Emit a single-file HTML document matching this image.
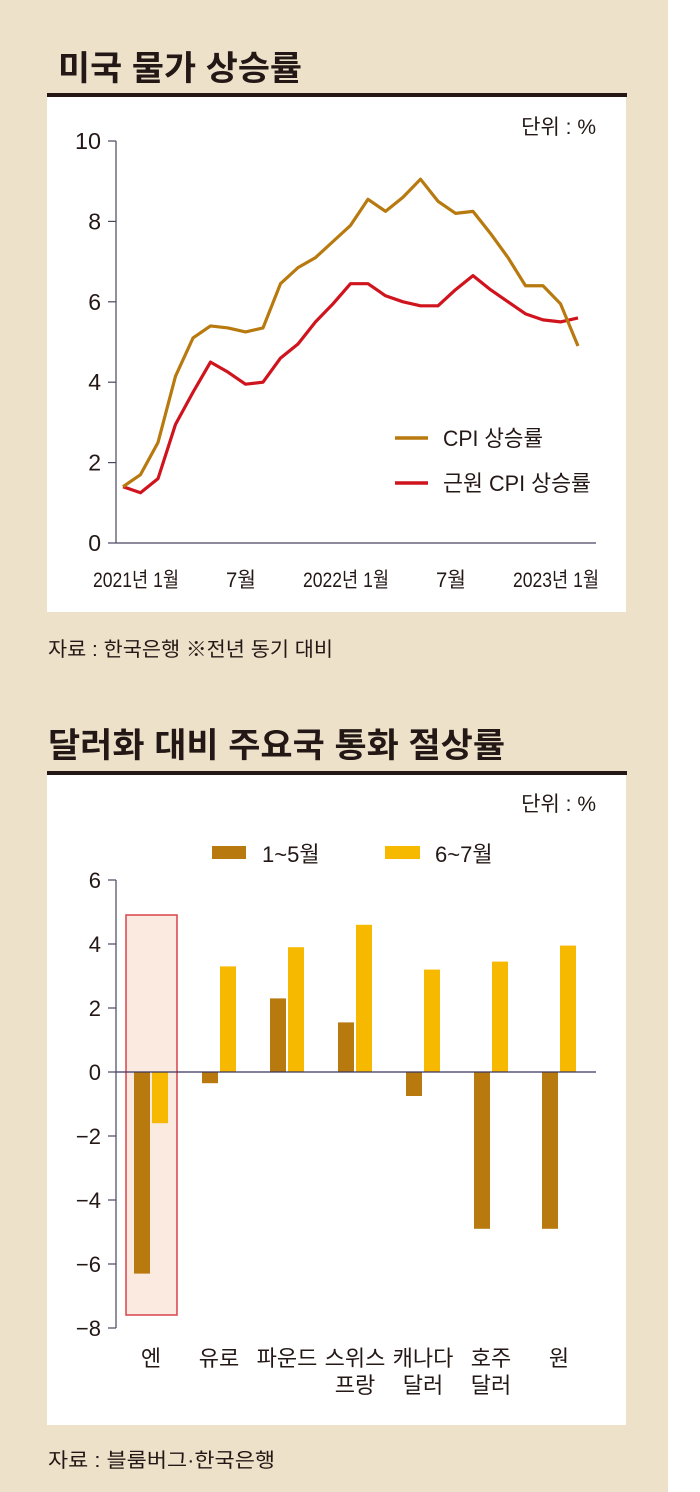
<!DOCTYPE html>
<html><head><meta charset="utf-8"><style>
html,body{margin:0;padding:0;background:#fff;}
svg{display:block;font-family:"Liberation Sans","Noto Sans CJK KR",sans-serif;}
</style></head><body>
<svg id="s" width="700" height="1492" viewBox="0 0 700 1492">
<rect x="0" y="0" width="668" height="1492" fill="#ede1ca"/>
<text x="58" y="80" font-size="34" font-weight="bold" fill="#231815" textLength="244" lengthAdjust="spacingAndGlyphs">미국 물가 상승률</text>
<rect x="47" y="93" width="580" height="4" fill="#231815"/>
<rect x="47" y="97" width="579" height="515" fill="#fff"/>
<text x="596" y="134" font-size="21" text-anchor="end" fill="#231815">단위 : %</text>
<g id="c1"></g>
<text x="48" y="656" font-size="20" fill="#231815" textLength="285" lengthAdjust="spacingAndGlyphs">자료 : 한국은행 ※전년 동기 대비</text>

<text x="48" y="757" font-size="34" font-weight="bold" fill="#231815" textLength="457" lengthAdjust="spacingAndGlyphs">달러화 대비 주요국 통화 절상률</text>
<rect x="47" y="771" width="580" height="4" fill="#231815"/>
<rect x="47" y="775" width="579" height="650" fill="#fff"/>
<text x="596" y="811" font-size="21" text-anchor="end" fill="#231815">단위 : %</text>
<rect x="212" y="846" width="34" height="13" fill="#b8790f"/>
<text x="262" y="862" font-size="22" fill="#231815">1~5월</text>
<rect x="385" y="846" width="35" height="13" fill="#f7b900"/>
<text x="435" y="862" font-size="22" fill="#231815">6~7월</text>
<rect x="126" y="915" width="51" height="400" fill="#faeae0" stroke="#d9434b" stroke-width="1.5"/>
<g id="c2"></g>
<text x="48" y="1467" font-size="20" fill="#231815" textLength="227" lengthAdjust="spacingAndGlyphs">자료 : 블룸버그·한국은행</text>
</svg>
<script>
const cpi=[1.4,1.7,2.5,4.15,5.1,5.4,5.35,5.25,5.35,6.45,6.85,7.1,7.5,7.9,8.55,8.25,8.6,9.05,8.5,8.2,8.25,7.7,7.1,6.4,6.4,5.95,4.9];
const core=[1.4,1.25,1.6,2.95,3.75,4.5,4.25,3.95,4.0,4.6,4.95,5.5,5.95,6.45,6.45,6.15,6.0,5.9,5.9,6.3,6.65,6.3,6.0,5.7,5.55,5.5,5.6];
const yTicks1=[0,2,4,6,8,10];
const xLabels1=["2021년 1월","7월","2022년 1월","7월","2023년 1월"];
const xLabelIdx=[0,6,12,18,24];
const cats=["엔","유로","파운드","스위스|프랑","캐나다|달러","호주|달러","원"];
const janMay=[-6.3,-0.35,2.3,1.55,-0.75,-4.9,-4.9];
const junJul=[-1.6,3.3,3.9,4.6,3.2,3.45,3.95];
const yTicks2=[6,4,2,0,-2,-4,-6,-8];
const NS="http://www.w3.org/2000/svg";
function mk(p,t,a){const e=document.createElementNS(NS,t);for(const k in a)e.setAttribute(k,a[k]);p.appendChild(e);return e;}
const c1=document.getElementById('c1');
const x1=i=>123+i*17.5, y1=v=>543-v*40.2;
let e=mk(c1,'line',{x1:116,y1:y1(10),x2:116,y2:y1(0),stroke:'#4a4560','stroke-width':1.2});


e=mk(c1,'line',{x1:116,y1:y1(0),x2:596,y2:y1(0),stroke:'#4a4560','stroke-width':1.2});


yTicks1.forEach(v=>{
 const t=mk(c1,'line',{x1:108,y1:y1(v),x2:116,y2:y1(v),stroke:'#4a4560','stroke-width':1.2});
 
 
 const a={x:101,y:y1(v)+8,'font-size':23,'text-anchor':'end',fill:'#231815'};
 if(String(v).length>1){a.textLength=26;a.lengthAdjust='spacingAndGlyphs';}
 const l=mk(c1,'text',a);
 l.textContent=v;
 
 
});
xLabels1.forEach((s,k)=>{
 const w=s.length>3?86:30;
 const l=mk(c1,'text',{x:x1(xLabelIdx[k])+13,y:587,'font-size':21,'text-anchor':'middle',fill:'#231815',textLength:w,lengthAdjust:'spacingAndGlyphs'});
 l.textContent=s;
 
 
});
function line(arr,col,name){
 const p=mk(c1,'polyline',{points:arr.map((v,i)=>x1(i)+','+y1(v)).join(' '),fill:'none',stroke:col,'stroke-width':3.2,'stroke-linejoin':'round'});
 
 
}
line(core,'#d0141e','core-cpi-line');
line(cpi,'#b8790f','cpi-line');
[['#b8790f','CPI 상승률',438,100],['#d0141e','근원 CPI 상승률',483,148]].forEach(([c,s,y,w])=>{
 const l=mk(c1,'line',{x1:395,y1:y,x2:428,y2:y,stroke:c,'stroke-width':3.5});
 
 
 const t=mk(c1,'text',{x:443,y:y+8,'font-size':22,fill:'#231815',textLength:w,lengthAdjust:'spacingAndGlyphs'});
 t.textContent=s;
 
 
});
const c2=document.getElementById('c2');
const y2=v=>1072-v*32, gx=i=>134+i*68;
yTicks2.forEach(v=>{
 const t=mk(c2,'line',{x1:108,y1:y2(v),x2:116,y2:y2(v),stroke:'#4a4560','stroke-width':1.2});
 
 
 const l=mk(c2,'text',{x:101,y:y2(v)+8,'font-size':22,'text-anchor':'end',fill:'#231815'});
 l.textContent=v<0?'−'+(-v):v;
 
 
});
e=mk(c2,'line',{x1:116,y1:y2(6),x2:116,y2:y2(-8),stroke:'#4a4560','stroke-width':1.2});


cats.forEach((c,i)=>{
 [[janMay[i],'#b8790f',0,'bar-jan-may'],[junJul[i],'#f7b900',18,'bar-jun-jul']].forEach(([v,col,off,n])=>{
  const r=mk(c2,'rect',{x:gx(i)+off,y:Math.min(y2(v),y2(0)),width:16,height:Math.abs(y2(v)-y2(0)),fill:col});
  
  
 });
 c.split('|').forEach((s,k)=>{
  const t=mk(c2,'text',{x:gx(i)+17,y:1366+k*27,'font-size':22,'text-anchor':'middle',fill:'#231815'});
  t.textContent=s;
  
  
 });
});
e=mk(c2,'line',{x1:116,y1:y2(0),x2:596,y2:y2(0),stroke:'#3a3560','stroke-width':1.2});


</script>
</body></html>
